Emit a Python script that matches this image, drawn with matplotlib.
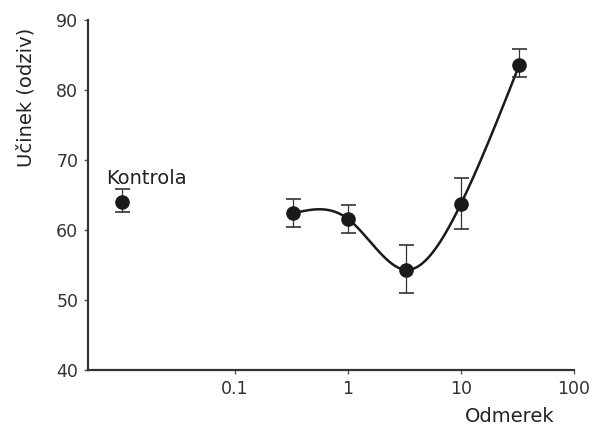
import numpy as np
import matplotlib
matplotlib.use('Agg')
import matplotlib.pyplot as plt
from matplotlib.ticker import FixedLocator, NullLocator, FixedFormatter

# kontrola (control) point, drawn apart on the left
ctrl_dose = 0.01
ctrl_mean = 64.0
ctrl_lo = 62.5
ctrl_hi = 65.8

# dose series
doses = [0.33, 1.0, 3.3, 10.0, 33.0]
means = [62.4, 61.6, 54.3, 63.7, 83.6]
err_lo = [60.4, 59.6, 51.0, 60.2, 81.8]
err_hi = [64.4, 63.5, 57.8, 67.4, 85.8]

x_ticks = [0.1, 1, 10, 100]
x_tick_labels = ['0.1', '1', '10', '100']
y_ticks = [40, 50, 60, 70, 80, 90]


def natural_spline(x, y, n=300):
    # plain natural cubic spline, no scipy here
    x = np.asarray(x, float)
    y = np.asarray(y, float)
    k = len(x)
    h = np.diff(x)
    A = np.zeros((k, k))
    b = np.zeros(k)
    A[0, 0] = 1
    A[-1, -1] = 1
    for i in range(1, k - 1):
        A[i, i - 1] = h[i - 1]
        A[i, i] = 2 * (h[i - 1] + h[i])
        A[i, i + 1] = h[i]
        b[i] = 3 * ((y[i + 1] - y[i]) / h[i] - (y[i] - y[i - 1]) / h[i - 1])
    c = np.linalg.solve(A, b)
    xs = np.linspace(x[0], x[-1], n)
    ys = np.empty_like(xs)
    for j, xv in enumerate(xs):
        i = min(np.searchsorted(x, xv, side='right') - 1, k - 2)
        dx = xv - x[i]
        bi = (y[i + 1] - y[i]) / h[i] - h[i] * (2 * c[i] + c[i + 1]) / 3
        di = (c[i + 1] - c[i]) / (3 * h[i])
        ys[j] = y[i] + bi * dx + c[i] * dx ** 2 + di * dx ** 3
    return xs, ys


plt.rcParams['font.family'] = ['DejaVu Sans']

fig = plt.figure(figsize=(5.94, 4.34), dpi=100)
ax = fig.add_axes([0.148, 0.1475, 0.818, 0.8065])

lx, ly = natural_spline(np.log10(doses), means)
ax.plot(10 ** lx, ly, color='#1a1a1a', lw=1.8, zorder=2)

yerr = [np.array(means) - np.array(err_lo), np.array(err_hi) - np.array(means)]
ax.errorbar(doses, means, yerr=yerr, fmt='o', color='#1a1a1a', ms=9.5,
            ecolor='#333333', elinewidth=0.9, capsize=5.4, capthick=1.2, zorder=3)
ax.errorbar([ctrl_dose], [ctrl_mean],
            yerr=[[ctrl_mean - ctrl_lo], [ctrl_hi - ctrl_mean]],
            fmt='o', color='#1a1a1a', ms=9.5, ecolor='#333333',
            elinewidth=0.9, capsize=5.4, capthick=1.2, zorder=3)

ax.text(0.0166, 67.4, 'Kontrola', ha='center', va='center',
        fontsize=14, color='#222222')

ax.set_xscale('log')
ax.set_xlim(10 ** -2.3, 100)
ax.set_ylim(40, 90)
ax.xaxis.set_major_locator(FixedLocator(x_ticks))
ax.xaxis.set_major_formatter(FixedFormatter(x_tick_labels))
ax.xaxis.set_minor_locator(NullLocator())
ax.set_yticks(y_ticks)

for s in ['top', 'right']:
    ax.spines[s].set_visible(False)
for s in ['left', 'bottom']:
    ax.spines[s].set_color('#333333')
    ax.spines[s].set_linewidth(1.6)
ax.tick_params(direction='out', length=3, width=1, color='#555555',
               labelsize=12.5, labelcolor='#333333', pad=4)

ax.set_ylabel('Učinek (odziv)', fontsize=14, color='#222222')
ax.yaxis.set_label_coords(-0.107, 0.779)
ax.set_xlabel('Odmerek', fontsize=14, color='#222222')
ax.xaxis.set_label_coords(0.868, -0.106)

fig.savefig('out.png', dpi=100)
